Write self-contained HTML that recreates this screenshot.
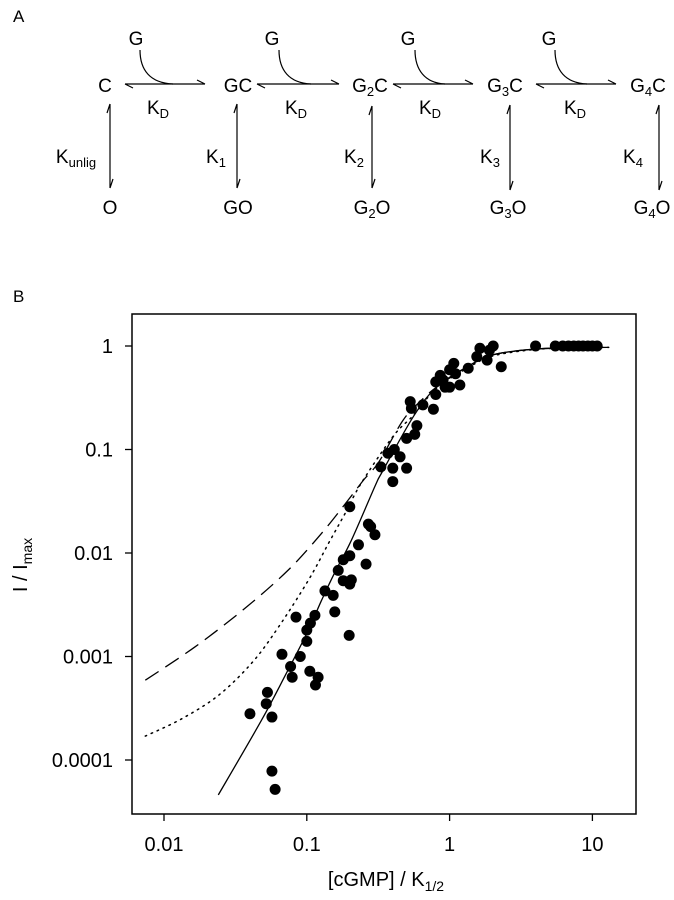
<!DOCTYPE html>
<html><head><meta charset="utf-8"><style>
html,body{margin:0;padding:0;background:#fff;}
svg{display:block;font-family:"Liberation Sans",Arial,sans-serif;}
</style></head><body>
<svg id="fig" width="674" height="900" viewBox="0 0 674 900" xmlns="http://www.w3.org/2000/svg">
<g font-size="19" fill="#000" text-anchor="middle" stroke="none">
  <text x="13" y="22" font-size="17" text-anchor="start">A</text>
  <g>
    <text x="105" y="92">C</text>
    <text x="238" y="92">GC</text>
    <text x="370" y="92">G<tspan font-size="13" dy="4">2</tspan><tspan dy="-4">C</tspan></text>
    <text x="505" y="92">G<tspan font-size="13" dy="4">3</tspan><tspan dy="-4">C</tspan></text>
    <text x="648" y="92">G<tspan font-size="13" dy="4">4</tspan><tspan dy="-4">C</tspan></text>
  </g>
  <g>
    <text x="110" y="214">O</text>
    <text x="238" y="214">GO</text>
    <text x="372" y="214">G<tspan font-size="13" dy="4">2</tspan><tspan dy="-4">O</tspan></text>
    <text x="508" y="214">G<tspan font-size="13" dy="4">3</tspan><tspan dy="-4">O</tspan></text>
    <text x="652" y="214">G<tspan font-size="13" dy="4">4</tspan><tspan dy="-4">O</tspan></text>
  </g>
  <g>
    <text x="136" y="45">G</text><text x="272" y="45">G</text><text x="408" y="45">G</text><text x="549" y="45">G</text>
  </g>
  <g>
    <text x="158" y="114">K<tspan font-size="13" dy="4">D</tspan></text>
    <text x="296" y="114">K<tspan font-size="13" dy="4">D</tspan></text>
    <text x="430" y="114">K<tspan font-size="13" dy="4">D</tspan></text>
    <text x="575" y="114">K<tspan font-size="13" dy="4">D</tspan></text>
  </g>
  <g>
    <text x="76" y="163">K<tspan font-size="13" dy="4">unlig</tspan></text>
    <text x="216" y="163">K<tspan font-size="13" dy="4">1</tspan></text>
    <text x="354" y="163">K<tspan font-size="13" dy="4">2</tspan></text>
    <text x="490" y="163">K<tspan font-size="13" dy="4">3</tspan></text>
    <text x="633" y="163">K<tspan font-size="13" dy="4">4</tspan></text>
  </g>
  <g stroke="#000" stroke-width="1.2" fill="none">
    <path d="M125 84 L205 84 M125 84 L133 88 M205 84 L197 80"/>
    <path d="M257 84 L339 84 M257 84 L265 88 M339 84 L331 80"/>
    <path d="M393 84 L473 84 M393 84 L401 88 M473 84 L465 80"/>
    <path d="M536 84 L616 84 M536 84 L544 88 M616 84 L608 80"/>
    <path d="M140 50 C140 70 150 83 173 84"/>
    <path d="M279 50 C279 70 289 83 311 84"/>
    <path d="M415 50 C415 70 425 83 445 84"/>
    <path d="M555 50 C555 70 565 83 587 84"/>
  </g>
  <g stroke="#000" stroke-width="1.2" fill="none">
    <path d="M110 104 L110 188 M110 104 L107 113 M110 188 L113 179"/>
    <path d="M237 104 L237 188 M237 104 L234 113 M237 188 L240 179"/>
    <path d="M372 106 L372 188 M372 106 L369 115 M372 188 L375 179"/>
    <path d="M510 105 L510 190 M510 105 L507 114 M510 190 L513 181"/>
    <path d="M659 105 L659 190 M659 105 L656 114 M659 190 L662 181"/>
  </g>
</g>
<text x="13" y="302" font-size="17">B</text>
<g id="chart"></g>
</svg>
<script>
const xTicks = [0.01, 0.1, 1, 10];
const xTickLabels = ["0.01", "0.1", "1", "10"];
const yTicks = [1, 0.1, 0.01, 0.001, 0.0001];
const yTickLabels = ["1", "0.1", "0.01", "0.001", "0.0001"];
const dataX = [4.0,5.5,6.2,6.8,7.4,8.0,8.6,9.3,10,10.8,
 1.63,2.02,1.9,1.55,1.83,2.3,1.35,1.07,1.0,0.86,1.1,1.18,1.0,0.80,0.90,0.93,0.80,
 0.53,0.54,0.65,0.77,0.59,0.57,0.50,0.41,0.37,0.45,0.33,0.40,0.50,0.40,
 0.20,0.27,0.30,0.28,0.23,0.20,0.26,0.18,0.166,0.18,0.205,0.20,0.134,0.153,0.157,0.198,
 0.084,0.114,0.106,0.1,0.1,0.067,0.090,0.077,0.079,0.105,0.12,0.115,0.053,0.052,0.040,0.057,0.057,0.060];
const dataY = [1,1,1,1,1,1,1,1,1,1,
 0.95,1,0.91,0.79,0.73,0.63,0.61,0.68,0.59,0.52,0.54,0.42,0.40,0.45,0.47,0.40,0.34,
 0.29,0.25,0.27,0.245,0.17,0.14,0.128,0.10,0.092,0.085,0.068,0.066,0.066,0.049,
 0.028,0.019,0.015,0.018,0.012,0.0094,0.0078,0.0086,0.0068,0.0054,0.0055,0.005,0.0043,0.0039,0.0027,0.0016,
 0.0024,0.0025,0.0021,0.0018,0.0014,0.00105,0.001,0.0008,0.00063,0.00072,0.00063,0.00053,0.00045,0.00035,0.00028,0.00026,0.000078,0.000052];
const solidX = [0.024,0.048,0.072,0.1,0.127,0.158,0.206,0.30,0.34,0.56,0.81,1.33,2.0,3.8,7,13];
const solidY = [4.6e-5,2.4e-4,6.9e-4,0.00167,0.0035,0.0066,0.0134,0.044,0.062,0.21,0.40,0.63,0.82,0.93,0.96,0.97];
const dashX = [0.0074,0.0165,0.0369,0.0742,0.127,0.195,0.25,0.32,0.47,0.62,0.81,1.33,2.0,3.8,7,13];
const dashY = [5.9e-4,0.00124,0.00292,0.00685,0.0155,0.0325,0.0507,0.076,0.19,0.29,0.40,0.63,0.82,0.93,0.96,0.97];
const dotX = [0.0074,0.0133,0.024,0.041,0.063,0.103,0.142,0.185,0.24,0.40,0.55,0.81,1.33,2.0,3.8,7,13];
const dotY = [1.7e-4,2.5e-4,4.2e-4,8.6e-4,0.0019,0.0055,0.0124,0.024,0.047,0.133,0.21,0.39,0.61,0.80,0.92,0.96,0.97];

const NS = "http://www.w3.org/2000/svg";
const L = 132, R = 636, T = 314, B = 814;
function sx(v){ return 164 + (Math.log10(v) + 2) * 142.8; }
function sy(v){ return 346 - Math.log10(v) * 103.5; }
const chart = document.getElementById('chart');
function mk(tag, attrs, parent){
  const e = document.createElementNS(NS, tag);
  for (const k in attrs) e.setAttribute(k, attrs[k]);
  (parent || chart).appendChild(e);
  return e;
}
const frame = mk('rect', {x:L, y:T, width:R-L, height:B-T, fill:'none', stroke:'#000', 'stroke-width':1.5});



xTicks.forEach((v, i) => {
  const x = sx(v);
  const t = mk('line', {x1:x, x2:x, y1:B, y2:B+7, stroke:'#000', 'stroke-width':1.3});
  
  
  const lb = mk('text', {x:x, y:B+37, 'font-size':20, 'text-anchor':'middle'});
  lb.textContent = xTickLabels[i];
  
  
});
yTicks.forEach((v, i) => {
  const y = sy(v);
  const t = mk('line', {x1:L-7, x2:L, y1:y, y2:y, stroke:'#000', 'stroke-width':1.3});
  
  
  const lb = mk('text', {x:113, y:y+7, 'font-size':20, 'text-anchor':'end'});
  lb.textContent = yTickLabels[i];
  
  
});

function curve(xs, ys, extra, name){
  const p = xs.map((v, i) => [sx(v), sy(ys[i])]);
  let d = 'M' + p[0][0].toFixed(1) + ' ' + p[0][1].toFixed(1);
  for (let i = 0; i < p.length - 1; i++) {
    const p0 = p[Math.max(0, i - 1)], p1 = p[i], p2 = p[i + 1], p3 = p[Math.min(p.length - 1, i + 2)];
    const c1x = p1[0] + (p2[0] - p0[0]) / 6, c1y = p1[1] + (p2[1] - p0[1]) / 6;
    const c2x = p2[0] - (p3[0] - p1[0]) / 6, c2y = p2[1] - (p3[1] - p1[1]) / 6;
    d += ' C' + c1x.toFixed(1) + ' ' + c1y.toFixed(1) + ' ' + c2x.toFixed(1) + ' ' + c2y.toFixed(1) + ' ' + p2[0].toFixed(1) + ' ' + p2[1].toFixed(1);
  }
  const path = mk('path', Object.assign({d:d, fill:'none', stroke:'#000', 'stroke-linejoin':'round'}, extra));
  
  
}
curve(dashX, dashY, {'stroke-width':1.3, 'stroke-dasharray':'16 8'}, 'dashed-fit-curve');
curve(dotX, dotY, {'stroke-width':1.5, 'stroke-dasharray':'1.5 5', 'stroke-linecap':'round'}, 'dotted-fit-curve');
curve(solidX, solidY, {'stroke-width':1.3}, 'solid-fit-curve');

dataX.forEach((v, i) => {
  const c = mk('circle', {cx:sx(v), cy:sy(dataY[i]), r:5.5, fill:'#000'});
  
  
});

const xt = mk('text', {x:386, y:886, 'font-size':20, 'text-anchor':'middle'});


xt.innerHTML = '[cGMP] / K<tspan font-size="14" dy="5">1/2</tspan>';
const yt = mk('text', {x:0, y:0, 'font-size':20, 'text-anchor':'middle', transform:'translate(27,565) rotate(-90)'});


yt.innerHTML = 'I / I<tspan font-size="14" dy="5">max</tspan>';
</script>
</body></html>
